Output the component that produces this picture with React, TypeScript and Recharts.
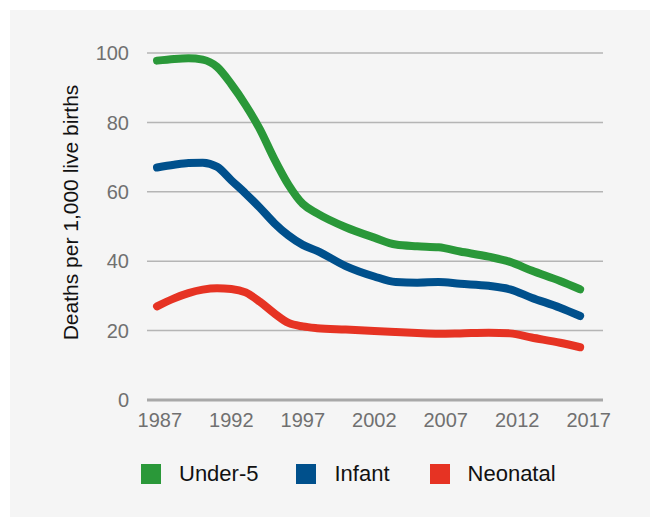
import React from "react";
import { LineChart, Line, XAxis, YAxis, CartesianGrid } from "recharts";

const years = [1986.8, 1988, 1989, 1990, 1991, 1992, 1993, 1994, 1995, 1996, 1997, 1998, 2000, 2002, 2003.5, 2005, 2006.5, 2008, 2010, 2011.5, 2013, 2015, 2016.4];
const under5 = [97.8, 98.3, 98.5, 98.1, 96, 91, 85, 78, 69.5, 62, 56.5, 53.8, 49.8, 46.8, 44.8, 44.3, 44, 42.8, 41.3, 39.8, 37.3, 34.3, 31.9];
const infant = [67, 67.8, 68.3, 68.4, 67.2, 63.3, 59.5, 55.4, 51, 47.4, 44.7, 43, 38.6, 35.6, 34, 33.8, 34, 33.5, 32.9, 31.9, 29.5, 26.6, 24.2];
const neonatal = [27, 29.3, 30.8, 31.8, 32.2, 32, 31, 28.3, 25, 22.2, 21.2, 20.7, 20.3, 19.9, 19.6, 19.3, 19.1, 19.2, 19.4, 19.2, 18, 16.5, 15.2];

const yearTicks = [1987, 1992, 1997, 2002, 2007, 2012, 2017];
const valueTicks = [0, 20, 40, 60, 80, 100];

const seriesNames = ["Under-5", "Infant", "Neonatal"];
const seriesKeys = ["under5", "infant", "neonatal"];
const seriesColors = ["#2a9839", "#00508c", "#e63323"];
const yTitle = "Deaths per 1,000 live births";

const rows = years.map((y, i) => ({
  year: y,
  under5: under5[i],
  infant: infant[i],
  neonatal: neonatal[i],
}));

const FONT = "'Liberation Sans', Arial, sans-serif";

const YTitle = (props: any) => {
  const vb = props.viewBox || {};
  const x = vb.x - 9;
  const y = vb.y + vb.height / 2 - 14;
  return (
    <text
      x={x}
      y={y}
      transform={`rotate(-90 ${x} ${y})`}
      textAnchor="middle"
      fill="#111"
      fontSize={21}
      fontFamily={FONT}
    >
      {yTitle}
    </text>
  );
};

const legendMargins = [38, 40, 0];

export default function App() {
  return (
    <div style={{ position: "fixed", left: 0, top: 0, width: 650, height: 517, background: "#fff" }}>
      <div
        style={{
          position: "absolute",
          left: 10,
          top: 10,
          width: 640,
          height: 507,
          background: "#f5f5f5",
          fontFamily: FONT,
        }}
      >
        <LineChart
          width={640}
          height={507}
          data={rows}
          margin={{ top: 43, right: 47, bottom: 77, left: 77 }}
        >
          <CartesianGrid horizontal vertical={false} stroke="#b5b5b5" strokeWidth={1.5} />
          <XAxis
            dataKey="year"
            type="number"
            domain={[1986.1, 2018]}
            ticks={yearTicks}
            allowDataOverflow
            height={40}
            tickLine={false}
            tickSize={0}
            tickMargin={13}
            axisLine={{ stroke: "#a8a8a8", strokeWidth: 3 }}
            tick={{ fill: "#707070", fontSize: 20, fontFamily: FONT }}
            interval={0}
          />
          <YAxis
            type="number"
            domain={[0, 100]}
            ticks={valueTicks}
            width={60}
            tickLine={false}
            axisLine={false}
            tickSize={0}
            tickMargin={18}
            tick={{ fill: "#707070", fontSize: 20, fontFamily: FONT }}
            interval={0}
            label={<YTitle />}
          />
          {seriesKeys.map((k, i) => (
            <Line
              key={k}
              type="monotone"
              dataKey={k}
              name={seriesNames[i]}
              stroke={seriesColors[i]}
              strokeWidth={8}
              strokeLinecap="round"
              strokeLinejoin="round"
              dot={false}
              activeDot={false}
              isAnimationActive={false}
            />
          ))}
        </LineChart>
        <div
          style={{
            position: "absolute",
            left: 131,
            top: 454,
            display: "flex",
            alignItems: "center",
            height: 20,
          }}
        >
          {seriesNames.map((n, i) => (
            <div key={n} style={{ display: "flex", alignItems: "center", marginRight: legendMargins[i] }}>
              <div style={{ width: 20, height: 20, background: seriesColors[i], marginRight: 18 }} />
              <span style={{ fontSize: 22, color: "#111", lineHeight: "20px" }}>{n}</span>
            </div>
          ))}
        </div>
      </div>
    </div>
  );
}
